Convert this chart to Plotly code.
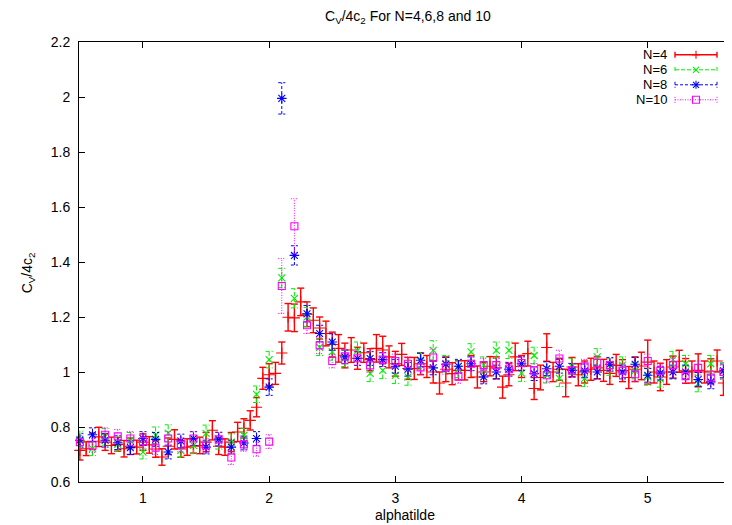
import plotly.graph_objects as go

# ---------------- data ----------------
x_n4 = [0.50, 0.55, 0.60, 0.65, 0.70, 0.75, 0.80, 0.85, 0.90, 0.95,
        1.00, 1.05, 1.10, 1.15, 1.20, 1.25, 1.30, 1.35, 1.40, 1.45,
        1.50, 1.55, 1.60, 1.65, 1.70, 1.75, 1.80, 1.85, 1.90, 1.95,
        2.00, 2.05, 2.10, 2.15, 2.20, 2.25, 2.30, 2.35, 2.40, 2.45,
        2.50, 2.55, 2.60, 2.65, 2.70, 2.75, 2.80, 2.85, 2.90, 2.95,
        3.00, 3.05, 3.10, 3.15, 3.20, 3.25, 3.30, 3.35, 3.40, 3.45,
        3.50, 3.55, 3.60, 3.65, 3.70, 3.75, 3.80, 3.85, 3.90, 3.95,
        4.00, 4.05, 4.10, 4.15, 4.20, 4.25, 4.30, 4.35, 4.40, 4.45,
        4.50, 4.55, 4.60, 4.65, 4.70, 4.75, 4.80, 4.85, 4.90, 4.95,
        5.00, 5.05, 5.10, 5.15, 5.20, 5.25, 5.30, 5.35, 5.40, 5.45,
        5.50, 5.55, 5.60, 5.65]
y_n4 = [0.715, 0.721, 0.748, 0.764, 0.745, 0.733, 0.737, 0.721, 0.730, 0.727,
        0.745, 0.735, 0.720, 0.691, 0.730, 0.755, 0.720, 0.727, 0.730, 0.733,
        0.745, 0.788, 0.730, 0.727, 0.745, 0.782, 0.795, 0.824, 0.872, 0.977,
        0.990, 0.995, 1.069, 1.199, 1.197, 1.255, 1.210, 1.188, 1.160, 1.140,
        1.100, 1.086, 1.060, 1.080, 1.050, 1.070, 1.045, 1.086, 1.080, 1.055,
        1.030, 1.064, 1.013, 1.013, 1.030, 1.020, 1.000, 0.960, 1.010, 0.994,
        1.006, 1.006, 1.020, 0.982, 1.000, 1.021, 1.015, 0.945, 0.990, 1.055,
        1.020, 1.067, 0.940, 0.980, 1.089, 1.000, 1.010, 0.960, 1.018, 0.990,
        1.000, 1.010, 1.015, 1.006, 0.995, 1.024, 1.005, 0.980, 1.010, 1.022,
        1.036, 1.000, 0.982, 1.000, 1.018, 1.039, 1.004, 1.000, 1.006, 1.000,
        1.003, 1.040, 0.960, 1.000]
e_n4 = [0.035, 0.025, 0.030, 0.035, 0.030, 0.030, 0.025, 0.030, 0.030, 0.025,
        0.030, 0.030, 0.030, 0.030, 0.030, 0.035, 0.030, 0.030, 0.025, 0.030,
        0.035, 0.035, 0.030, 0.030, 0.035, 0.035, 0.035, 0.035, 0.035, 0.040,
        0.040, 0.040, 0.040, 0.050, 0.050, 0.050, 0.045, 0.045, 0.040, 0.045,
        0.045, 0.050, 0.045, 0.045, 0.040, 0.035, 0.040, 0.050, 0.050, 0.040,
        0.045, 0.040, 0.040, 0.040, 0.040, 0.040, 0.040, 0.040, 0.045, 0.040,
        0.035, 0.035, 0.040, 0.040, 0.035, 0.035, 0.040, 0.040, 0.040, 0.050,
        0.040, 0.045, 0.040, 0.045, 0.050, 0.035, 0.040, 0.050, 0.035, 0.040,
        0.040, 0.040, 0.040, 0.040, 0.040, 0.040, 0.040, 0.040, 0.045, 0.050,
        0.080, 0.040, 0.050, 0.045, 0.040, 0.040, 0.045, 0.040, 0.060, 0.040,
        0.045, 0.040, 0.045, 0.040]

x_coarse = [0.5, 0.6, 0.7, 0.8, 0.9, 1.0, 1.1, 1.2, 1.3, 1.4,
            1.5, 1.6, 1.7, 1.8, 1.9, 2.0, 2.1, 2.2, 2.3, 2.4,
            2.5, 2.6, 2.7, 2.8, 2.9, 3.0, 3.1, 3.2, 3.3, 3.4,
            3.5, 3.6, 3.7, 3.8, 3.9, 4.0, 4.1, 4.2, 4.3, 4.4,
            4.5, 4.6, 4.7, 4.8, 4.9, 5.0, 5.1, 5.2, 5.3, 5.4,
            5.5, 5.6]
y_n6 = [0.755, 0.721, 0.764, 0.737, 0.750, 0.709, 0.770, 0.778, 0.715, 0.733,
        0.777, 0.750, 0.745, 0.770, 0.919, 1.045, 1.342, 1.268, 1.200, 1.090,
        1.073, 1.050, 1.079, 0.995, 1.006, 0.988, 0.982, 1.040, 1.079, 1.030,
        1.010, 1.073, 1.025, 1.079, 1.079, 0.996, 1.060, 0.990, 0.977, 1.020,
        0.977, 1.055, 1.018, 1.025, 1.005, 0.982, 0.975, 1.045, 1.030, 0.958,
        1.030, 1.004]
e_n6 = [0.030, 0.025, 0.030, 0.025, 0.030, 0.025, 0.030, 0.030, 0.025, 0.030,
        0.030, 0.030, 0.030, 0.025, 0.030, 0.030, 0.035, 0.035, 0.035, 0.030,
        0.030, 0.030, 0.030, 0.030, 0.030, 0.030, 0.030, 0.030, 0.035, 0.030,
        0.030, 0.030, 0.030, 0.030, 0.030, 0.030, 0.030, 0.030, 0.030, 0.030,
        0.030, 0.030, 0.030, 0.030, 0.030, 0.030, 0.030, 0.030, 0.030, 0.030,
        0.030, 0.030]
y_n8 = [0.752, 0.772, 0.752, 0.743, 0.725, 0.758, 0.755, 0.709, 0.749, 0.758,
        0.727, 0.756, 0.727, 0.742, 0.758, 0.945, 1.995, 1.424, 1.212, 1.140,
        1.109, 1.055, 1.049, 1.049, 1.045, 1.021, 1.010, 1.043, 1.015, 1.028,
        1.021, 1.030, 0.982, 1.000, 1.010, 1.030, 0.994, 1.012, 1.021, 1.006,
        1.004, 1.000, 1.028, 1.000, 1.028, 0.988, 0.996, 1.000, 1.000, 0.973,
        0.964, 1.004]
e_n8 = [0.025, 0.025, 0.025, 0.025, 0.025, 0.025, 0.025, 0.025, 0.025, 0.025,
        0.025, 0.025, 0.025, 0.025, 0.025, 0.030, 0.057, 0.035, 0.030, 0.030,
        0.030, 0.025, 0.025, 0.025, 0.025, 0.025, 0.025, 0.025, 0.025, 0.025,
        0.025, 0.025, 0.025, 0.025, 0.025, 0.025, 0.025, 0.025, 0.025, 0.025,
        0.025, 0.025, 0.025, 0.025, 0.025, 0.025, 0.025, 0.025, 0.025, 0.025,
        0.025, 0.025]
y_n10 = [0.745, 0.733, 0.772, 0.766, 0.758, 0.748, 0.725, 0.758, 0.735, 0.758,
         0.733, 0.755, 0.689, 0.737, 0.719, 0.747, 1.313, 1.530, 1.170, 1.097,
         1.040, 1.057, 1.050, 1.024, 1.045, 1.040, 1.030, 1.017, 1.053, 1.017,
         0.984, 1.030, 1.025, 1.025, 1.010, 1.033, 1.006, 0.988, 1.049, 1.006,
         1.021, 1.033, 1.025, 1.005, 0.992, 1.040, 1.004, 1.025, 0.985, 1.015,
         0.980, 1.000]
e_n10 = [0.025, 0.025, 0.025, 0.025, 0.025, 0.025, 0.025, 0.025, 0.025, 0.025,
         0.025, 0.025, 0.025, 0.025, 0.025, 0.025, 0.100, 0.100, 0.030, 0.030,
         0.025, 0.025, 0.025, 0.025, 0.025, 0.025, 0.025, 0.025, 0.030, 0.025,
         0.025, 0.025, 0.025, 0.025, 0.025, 0.025, 0.025, 0.025, 0.030, 0.025,
         0.025, 0.025, 0.025, 0.025, 0.025, 0.025, 0.025, 0.025, 0.025, 0.025,
         0.025, 0.025]

series_names = ["N=4", "N=6", "N=8", "N=10"]
x_ticks = [1, 2, 3, 4, 5]
y_ticks = [0.6, 0.8, 1.0, 1.2, 1.4, 1.6, 1.8, 2.0, 2.2]
y_ticklabels = ["0.6", "0.8", "1", "1.2", "1.4", "1.6", "1.8", "2", "2.2"]

# ---------------- layout (page has an 8px body margin) ----------------
OFF = 8
W, H = 732 - OFF, 525 - OFF
# target plot box in screen pixels
PL, PR, PT, PB = 79, 731, 41.7, 481.7
ML, MR = PL - OFF, W - (PR - OFF)
MT, MB = PT - OFF, H - (PB - OFF)
X_RANGE = [0.493, 5.66]
Y_RANGE = [0.6, 2.2]
FONT = "Liberation Sans, Arial, sans-serif"
FS = 14
CAP = 0.028   # half cap width in x units (~3.5 px)

styles = [
    dict(color="#ff0000", symbol="cross-thin-open", size=8, dash="solid", lw=1.4),
    dict(color="#00ee00", symbol="x-thin-open", size=7, dash="4px,2px", lw=1.0),
    dict(color="#0000ff", symbol="asterisk-open", size=8, dash="3px,2px", lw=1.0),
    dict(color="#ff00ff", symbol="square-open", size=7, dash="1px,1.5px", lw=1.0),
]
datasets = [(x_n4, y_n4, e_n4), (x_coarse, y_n6, e_n6),
            (x_coarse, y_n8, e_n8), (x_coarse, y_n10, e_n10)]

fig = go.Figure()

for name, (xs, ys, es), st in zip(series_names, datasets, styles):
    ex, ey = [], []
    for xv, yv, ev in zip(xs, ys, es):
        lo, hi = yv - ev, yv + ev
        ex += [xv, xv, None, xv - CAP, xv + CAP, None, xv - CAP, xv + CAP, None]
        ey += [lo, hi, None, lo, lo, None, hi, hi, None]
    fig.add_trace(go.Scatter(
        x=ex, y=ey, mode="lines", showlegend=False, hoverinfo="skip",
        line=dict(color=st["color"], width=st["lw"], dash=st["dash"])))
    fig.add_trace(go.Scatter(
        x=xs, y=ys, mode="markers", name=name, showlegend=False, cliponaxis=False,
        marker=dict(symbol=st["symbol"], size=st["size"], color=st["color"],
                    line=dict(color=st["color"], width=1.1))))

# screen px -> paper coords
def pxx(px):
    return (px - PL) / (PR - PL)

def pyy(py):
    return (PB - py) / (PB - PT)

shapes = []
annotations = []
rows = [54.5, 69.5, 84.5, 99.5]
for name, st, ry in zip(series_names, styles, rows):
    c = st["color"]
    ln = dict(color=c, width=st["lw"], dash=st["dash"])
    shapes.append(dict(type="line", xref="paper", yref="paper",
                       x0=pxx(675), x1=pxx(717), y0=pyy(ry), y1=pyy(ry), line=ln))
    for xe in (675, 717):
        shapes.append(dict(type="line", xref="paper", yref="paper",
                           x0=pxx(xe), x1=pxx(xe), y0=pyy(ry - 3), y1=pyy(ry + 3), line=ln))
    solid = dict(color=c, width=1.1)
    cx = 696
    if st["symbol"].startswith("cross"):
        segs = [(-4, 0, 4, 0), (0, -4, 0, 4)]
    elif st["symbol"].startswith("x-"):
        segs = [(-3, -3, 3, 3), (-3, 3, 3, -3)]
    elif st["symbol"].startswith("asterisk"):
        segs = [(-4, 0, 4, 0), (0, -4, 0, 4), (-3, -3, 3, 3), (-3, 3, 3, -3)]
    else:
        segs = []
        shapes.append(dict(type="rect", xref="paper", yref="paper",
                           x0=pxx(cx - 3.5), x1=pxx(cx + 3.5),
                           y0=pyy(ry - 3.5), y1=pyy(ry + 3.5), line=solid))
    for a, b, c2, d in segs:
        shapes.append(dict(type="line", xref="paper", yref="paper",
                           x0=pxx(cx + a), x1=pxx(cx + c2),
                           y0=pyy(ry + b), y1=pyy(ry + d), line=solid))
    annotations.append(dict(text=name, xref="paper", yref="paper",
                            x=pxx(668), y=pyy(ry), xanchor="right", yanchor="middle",
                            showarrow=False, borderpad=0,
                            font=dict(family=FONT, size=13, color="black")))

# title and axis labels
annotations.append(dict(text="C<sub>V</sub>/4c<sub>2</sub> For N=4,6,8 and 10",
                        xref="paper", yref="paper", x=pxx(408), y=pyy(17),
                        xanchor="center", yanchor="middle", showarrow=False,
                        font=dict(family=FONT, size=FS, color="black")))
annotations.append(dict(text="alphatilde", xref="paper", yref="paper",
                        x=pxx(405), y=pyy(515), xanchor="center", yanchor="middle",
                        showarrow=False, borderpad=0,
                        font=dict(family=FONT, size=FS, color="black")))
annotations.append(dict(text="C<sub>V</sub>/4c<sub>2</sub>", xref="paper", yref="paper",
                        x=pxx(28), y=pyy(272), xanchor="center", yanchor="middle",
                        textangle=-90, showarrow=False,
                        font=dict(family=FONT, size=FS, color="black")))

axis_common = dict(showgrid=False, zeroline=False, showline=True, linecolor="black",
                   linewidth=1, mirror="allticks", ticks="inside", ticklen=6,
                   tickcolor="black", tickwidth=1,
                   tickfont=dict(family=FONT, size=FS, color="black"))

fig.update_layout(
    width=W, height=H,
    margin=dict(l=ML, r=MR, t=MT, b=MB, pad=0),
    paper_bgcolor="white", plot_bgcolor="white",
    showlegend=False,
    xaxis=dict(range=X_RANGE, tickvals=x_ticks, ticktext=[str(v) for v in x_ticks],
               ticklabelstandoff=3, **axis_common),
    yaxis=dict(range=Y_RANGE, tickvals=y_ticks, ticktext=y_ticklabels,
               ticklabelstandoff=5, **axis_common),
    shapes=shapes,
    annotations=annotations,
)

fig.write_html("out.html")
